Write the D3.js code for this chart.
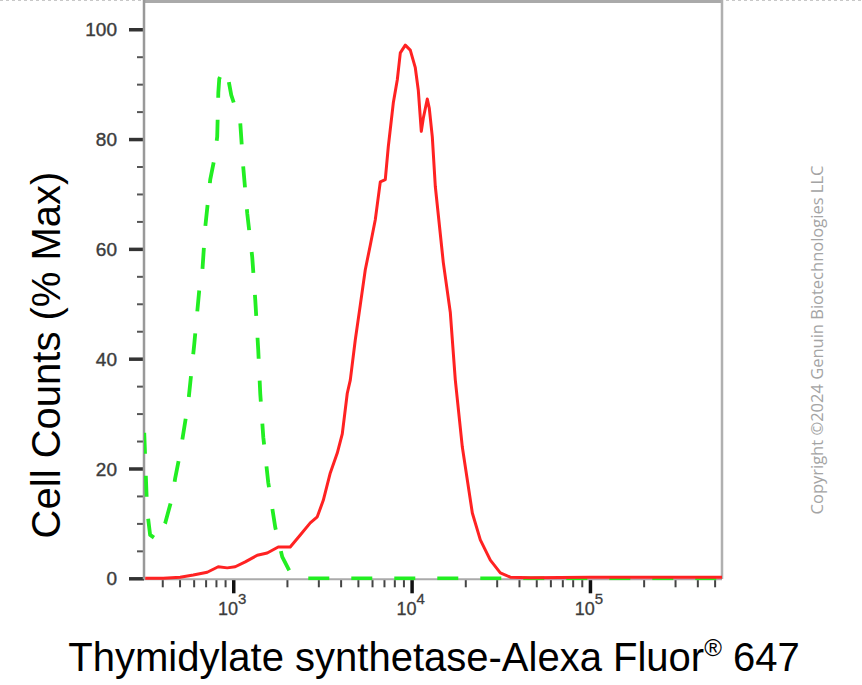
<!DOCTYPE html>
<html><head><meta charset="utf-8">
<script src="https://cdn.jsdelivr.net/npm/d3@7"></script>
<style>body{margin:0;background:#fff;} svg{display:block;}</style>
</head><body>
<svg id="c" width="862" height="685"></svg>
<script>
// ---- data (fluorescence intensity vs % max cell counts) ----
const greenX = [317,329,342,375,416,455,473,504,559,604,645,670,697,743,782,813,825,835,870,902,930,975,1039,1095,1138,1198,1278,1329,1381,1417,1474,1572,1720,1883,2087,2376,3000,10000,100000,550000];
const greenY = [26.5,12.4,7.9,7.0,10.1,14.8,18.3,22.8,31.9,42.5,52.5,55.6,64.0,72.6,76.2,80.4,88.5,91.0,92.3,92.6,91.6,88.0,85.3,82.9,74.9,66.5,58.5,50.7,41.6,33.7,25.7,17.4,9.3,3.9,1.1,0,0,0,0,0];
const redX = [321,405,504,597,715,824,926,1026,1168,1364,1551,1788,2087,2376,2703,2959,3198,3500,3831,4087,4359,4532,4833,5158,5500,5869,6258,6676,7120,7402,7898,8316,8644,9221,9833,10490,10904,11335,11631,12248,12569,13066,13580,15061,16487,17586,19250,21904,24287,27634,31444,35778,46322,100000,200000,550000];
const redY = [0,0,0.2,0.6,1.1,2.1,1.9,2.1,3.0,4.2,4.6,5.7,5.7,7.9,10.1,11.2,14.2,19.2,22.8,26.3,33.7,36.1,43.4,49.8,56.2,60.7,65.3,72.2,72.6,78.6,86.6,90.8,95.7,97.1,96.2,93.0,88.9,81.4,83.8,87.3,85.6,80.4,71.4,57.5,48.4,36.1,23.9,11.9,7.0,3.3,1.0,0.2,0.1,0.2,0.2,0.2];
const yMajorTicks = [0,20,40,60,80,100];
const yMinorTicks = [5,10,15,25,30,35,45,50,55,65,70,75,85,90,95];
const xMajorTicks = [1000,10000,100000];
const xMajorExp = ["3","4","5"];
const xMinorTicks = [400,500,600,700,800,900,2000,3000,4000,5000,6000,7000,8000,9000,20000,30000,40000,50000,60000,70000,80000,90000,200000,300000,400000,500000];
const xTitle = "Thymidylate synthetase-Alexa Fluor";
const xTitleSup = "®";
const xTitleEnd = " 647";
const yTitle = "Cell Counts (% Max)";
const copyright = "Copyright ©2024 Genuin  Biotechnologies LLC";

const svg = d3.select("#c");
const L = 144, R = 722, T = 1.8, B = 578.3;
const x = d3.scaleLog().domain([316, 550000]).range([L, R]);
const y = d3.scaleLinear().domain([0, 105]).range([B, T]);

// top dashed image border
svg.append("line").attr("x1",0).attr("x2",862).attr("y1",0.5).attr("y2",0.5)
  .attr("stroke","#c8c8c8").attr("stroke-width",1).attr("stroke-dasharray","3,3");

// frame
svg.append("line").attr("x1",L).attr("x2",R+1).attr("y1",1.5).attr("y2",1.5)
  .attr("stroke","#aaaaaa").attr("stroke-width",3);
svg.append("line").attr("x1",R).attr("x2",R).attr("y1",0).attr("y2",579)
  .attr("stroke","#b0b0b0").attr("stroke-width",2.5);

svg.append("defs").append("clipPath").attr("id","pc")
  .append("rect").attr("x",L).attr("y",0).attr("width",R-L).attr("height",B+2);

// axes
function styleAxis(g, col, w){
  g.select(".domain").remove();
  g.selectAll(".tick line").attr("stroke",col).attr("stroke-width",w);
  g.selectAll(".tick text").remove();
}
const gyMinor = svg.append("g").attr("transform",`translate(${L},0)`)
  .call(d3.axisLeft(y).tickValues(yMinorTicks).tickSize(7));
styleAxis(gyMinor,"#555",2);
const gyMajor = svg.append("g").attr("transform",`translate(${L},0)`)
  .call(d3.axisLeft(y).tickValues(yMajorTicks).tickSize(15).tickPadding(12).tickFormat(d3.format("d")));
gyMajor.select(".domain").remove();
gyMajor.selectAll(".tick line").attr("stroke","#333").attr("stroke-width",3.5);
gyMajor.selectAll(".tick text").attr("font-family","Liberation Sans, Arial, sans-serif")
  .attr("font-size",19).attr("fill","#3c3c3c").attr("stroke","#3c3c3c").attr("stroke-width",0.4)
  .attr("dy","0.35em");

const gxMinor = svg.append("g").attr("transform",`translate(0,${B+1})`)
  .call(d3.axisBottom(x).tickValues(xMinorTicks).tickSize(8));
styleAxis(gxMinor,"#444",2);
const gxMajor = svg.append("g").attr("transform",`translate(0,${B+1})`)
  .call(d3.axisBottom(x).tickValues(xMajorTicks).tickSize(14));
styleAxis(gxMajor,"#111",3.5);

// axis lines
svg.append("line").attr("x1",L).attr("x2",L).attr("y1",0).attr("y2",B+1)
  .attr("stroke","#999").attr("stroke-width",2.5);
svg.append("line").attr("x1",L).attr("x2",R).attr("y1",B+1).attr("y2",B+1)
  .attr("stroke","#aaa").attr("stroke-width",2);

// x tick labels
xMajorTicks.forEach((v,i)=>{
  const t = svg.append("text").attr("x",x(v)-1).attr("y",615)
    .attr("text-anchor","middle").attr("font-family","Liberation Sans, Arial, sans-serif")
    .attr("fill","#3c3c3c").attr("stroke","#3c3c3c").attr("stroke-width",0.3).attr("font-size",18);
  t.append("tspan").text("10");
  t.append("tspan").attr("font-size",15).attr("dy",-11).text(xMajorExp[i]);
});

// curves
const line = d3.line().x(d=>x(d[0])).y(d=>y(d[1])).curve(d3.curveLinear);
const plot = svg.append("g").attr("clip-path","url(#pc)");
plot.append("path").datum(d3.zip(greenX, greenY)).attr("d",line)
  .attr("fill","none").attr("stroke","#22ee22").attr("stroke-width",3.8)
  .attr("stroke-dasharray","21,22").attr("stroke-linejoin","round");
plot.append("path").datum(d3.zip(redX, redY)).attr("d",line)
  .attr("fill","none").attr("stroke","#ff2222").attr("stroke-width",3)
  .attr("stroke-linejoin","round");

// titles
const xt = svg.append("text").attr("x",434).attr("y",671).attr("text-anchor","middle")
  .attr("font-family","Liberation Sans, Arial, sans-serif").attr("font-size",40).attr("fill","#000");
xt.append("tspan").text(xTitle);
xt.append("tspan").attr("font-size",24).attr("dy",-15).text(xTitleSup);
xt.append("tspan").attr("dy",15).text(xTitleEnd);

svg.append("text").attr("transform","translate(60,355) rotate(-90)").attr("text-anchor","middle")
  .attr("font-family","Liberation Sans, Arial, sans-serif").attr("font-size",40).attr("fill","#000")
  .text(yTitle);

svg.append("text").attr("transform","translate(823,340) rotate(-90)").attr("text-anchor","middle")
  .attr("font-family","Open Sans, sans-serif").attr("font-size",16.5).attr("fill","#a4a4a4")
  .text(copyright);
</script>
</body></html>
